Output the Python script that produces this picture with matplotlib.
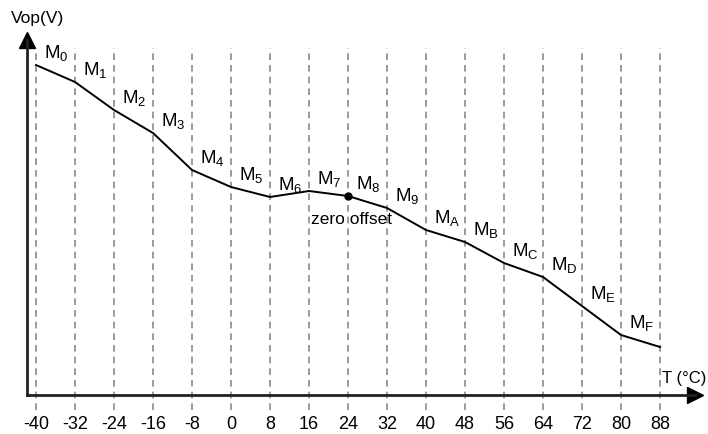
import matplotlib.pyplot as plt

plt.rcParams['font.family'] = ['Liberation Sans', 'DejaVu Sans']
plt.rcParams['mathtext.fontset'] = 'custom'
plt.rcParams['mathtext.rm'] = 'Liberation Sans'
plt.rcParams['mathtext.it'] = 'Liberation Sans'

# temperature points (°C) and Vop (arbitrary units)
temps = [-40, -32, -24, -16, -8, 0, 8, 16, 24, 32, 40, 48, 56, 64, 72, 80, 88]
vop = [330, 313, 285, 262, 225, 208, 198, 204, 199, 187, 165, 153, 132, 118, 89, 60, 48]
seg_names = ['0', '1', '2', '3', '4', '5', '6', '7', '8', '9', 'A', 'B', 'C', 'D', 'E', 'F']
zero_t = 24

W, H = 708, 434
fig = plt.figure(figsize=(W / 100, H / 100), dpi=100)

# axes box in pixels: y-axis at x=27, x-axis at y=395, arrows end at x=695 / y=40
x0, y0, x1, y1 = 27, 395, 695, 40
ax = fig.add_axes([x0 / W, (H - y0) / H, (x1 - x0) / W, (y0 - y1) / H])
px_per_deg = (660 - 36) / 128
ax.set_xlim(-40 - (36 - x0) / px_per_deg, -40 + (x1 - 36) / px_per_deg)
ax.set_ylim(0, y0 - y1)

for s in ['top', 'right']:
    ax.spines[s].set_visible(False)
for s in ['left', 'bottom']:
    ax.spines[s].set_linewidth(2)
    ax.spines[s].set_color('#222222')
ax.set_yticks([])
ax.set_xticks(temps)
ax.set_xticklabels([str(t) for t in temps], fontsize=13)
ax.tick_params(axis='x', length=0, pad=15)

# arrow heads
ax.plot(1, 0, '>', color='black', markersize=12, transform=ax.transAxes, clip_on=False)
ax.plot(0, 1, '^', color='black', markersize=12, transform=ax.transAxes, clip_on=False)

# dashed grid lines
ax.vlines(temps, -15, 347, colors='#8a8a8a', linestyles=(0, (4, 3)), linewidth=1.2,
          clip_on=False, zorder=1)

ax.plot(temps, vop, color='black', linewidth=1.4, zorder=3)
zi = temps.index(zero_t)
ax.plot(zero_t, vop[zi], 'o', color='black', markersize=5, zorder=4)
ax.text(zero_t + 0.8, vop[zi] - 16, 'zero offset', fontsize=12.5, ha='center', va='top')

for t, v, n in zip(temps[:-1], vop[:-1], seg_names):
    ax.text(t + 1.6, v + 2, r'$\mathrm{M}_{\mathrm{' + n + '}}$', fontsize=13.5,
            ha='left', va='bottom')

fig.text(11 / W, 1 - 19 / H, 'Vop(V)', fontsize=12.5, ha='left', va='center')
fig.text(706 / W, 1 - 378 / H, 'T (°C)', fontsize=12, ha='right', va='center')

fig.savefig('out.png', dpi=100)
